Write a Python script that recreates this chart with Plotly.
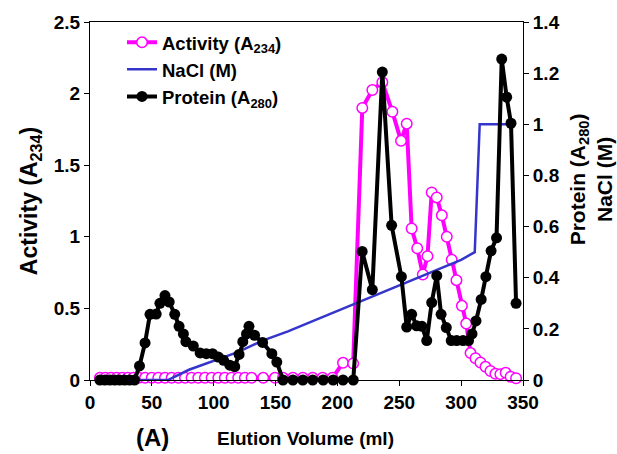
import plotly.graph_objects as go

# Activity (A234)
act_x = [8, 12.5, 17, 21.5, 26, 30.5, 35, 39.5, 44.5, 49.9, 55.2, 60.6, 66, 71.4, 76.8, 82.1, 87.5,
         92.9, 98.3, 103.7, 109, 114.4, 119.8, 125.2, 130.6, 140, 149.5, 156, 164, 172, 180, 188, 196,
         204.5, 212.7, 220.1, 228.2, 236.3, 244.4, 251.4, 256, 260, 264.5, 269, 272.8, 276.2, 280.3,
         284.4, 288.4, 292.4, 296.2, 300.6, 304.1, 307.6, 311.6, 315.6, 319.7, 323.7, 327.7, 331.7,
         336, 340, 344.4]
act_y = [0.015] * 33 + [0.12, 0.115, 1.90, 2.025, 2.08, 1.873, 1.67, 1.79, 1.058, 0.92, 0.737, 0.865,
                        1.31, 1.275, 1.15, 1.0, 0.84, 0.697, 0.518, 0.394, 0.188, 0.152, 0.122, 0.092,
                        0.063, 0.043, 0.041, 0.05, 0.023, 0.012]

# NaCl (M)
nacl_x = [8, 40, 63, 80, 100, 120, 140, 160, 180, 200, 220, 240, 260, 280, 300, 311, 315, 340]
nacl_y = [0, 0, 0, 0.04, 0.075, 0.11, 0.155, 0.19, 0.23, 0.27, 0.31, 0.35, 0.39, 0.43, 0.47, 0.50, 1.0, 1.0]

# Protein (A280)
prot_x = [8, 12, 16, 20, 24, 28, 32, 36, 40, 44.5, 48.5, 53.5, 56.5, 60.6, 64, 68.5, 72, 75.5, 77.5,
          83.5, 89, 94, 99, 103.7, 108, 113, 117, 120.5, 123.5, 126.5, 128.5, 133, 139.5, 147, 151,
          156, 164, 172, 180, 188.5, 196.5, 204.5, 212.8, 220, 228.2, 236.3, 243.8, 251.7, 256, 260,
          264, 268.3, 272.2, 276.2, 280.3, 283.8, 288, 292, 296.4, 301.5, 306, 308.8, 312, 316.2,
          320, 324.2, 328.6, 332.8, 336.8, 340.3, 344.4]
prot_y = [0, 0, 0, 0, 0, 0, 0, 0, 0.055, 0.145, 0.257, 0.258, 0.30, 0.33, 0.305, 0.257, 0.21, 0.18,
          0.15, 0.133, 0.106, 0.103, 0.103, 0.09, 0.077, 0.058, 0.052, 0.10, 0.15, 0.18, 0.21, 0.175,
          0.147, 0.103, 0.07, 0, 0, 0, 0, 0, 0, 0, 0, 0.503, 0.353, 1.204, 0.605, 0.404, 0.207, 0.257,
          0.212, 0.21, 0.154, 0.303, 0.408, 0.257, 0.205, 0.154, 0.154, 0.154, 0.154, 0.18, 0.231,
          0.315, 0.404, 0.505, 0.556, 1.255, 1.106, 1.004, 0.30]

x_ticks = [0, 50, 100, 150, 200, 250, 300, 350]
left_ticks = [0, 0.5, 1, 1.5, 2, 2.5]
left_labels = ["0", "0.5", "1", "1.5", "2", "2.5"]
right_ticks = [0, 0.2, 0.4, 0.6, 0.8, 1, 1.2, 1.4]
right_labels = ["0", "0.2", "0.4", "0.6", "0.8", "1", "1.2", "1.4"]

FONT = "Liberation Sans, Arial, sans-serif"

# plot area in pixels (for annotation placement)
L, R, T, B, W, H = 90, 94, 16, 74, 617, 454
PW, PH = W - L - R, H - T - B


def px_to_paper(px, py):
    return (px - L) / PW, 1 - (py - T) / PH


fig = go.Figure()
fig.add_trace(go.Scatter(
    x=act_x, y=act_y, name="Activity (A<sub>234</sub>)", mode="lines+markers",
    line=dict(color="#FF00FF", width=4),
    marker=dict(symbol="circle", size=10.5, color="white", line=dict(color="#FF00FF", width=1.5)),
    cliponaxis=False, yaxis="y"))
fig.add_trace(go.Scatter(
    x=nacl_x, y=nacl_y, name="NaCl (M)", mode="lines",
    line=dict(color="#3535CC", width=2.5), cliponaxis=False, yaxis="y2"))
fig.add_trace(go.Scatter(
    x=prot_x, y=prot_y, name="Protein (A<sub>280</sub>)", mode="lines+markers",
    line=dict(color="black", width=4),
    marker=dict(symbol="circle", size=11, color="black"),
    cliponaxis=False, yaxis="y2"))

ax_a, ay_a = px_to_paper(152, 438)
ax_r, ay_r = px_to_paper(591, 176)
ax_x, ay_x = px_to_paper(305, 439)

fig.update_layout(
    width=W, height=H,
    margin=dict(l=L, r=R, t=T, b=B),
    paper_bgcolor="white", plot_bgcolor="white",
    font=dict(family=FONT, size=19, color="black", weight="bold"),
    showlegend=True,
    legend=dict(x=(122 - L) / PW, y=0.995, xanchor="left", yanchor="top",
                bgcolor="rgba(0,0,0,0)", font=dict(size=18.5, family=FONT, weight="bold"),
                tracegroupgap=0, itemwidth=30),
    xaxis=dict(range=[0, 350], tickvals=x_ticks, ticks="outside", ticklen=5, tickcolor="black",
               showline=True, linecolor="black", linewidth=1, mirror=True, showgrid=False,
               zeroline=False, tickfont=dict(size=19, family=FONT, weight="bold")),
    yaxis=dict(range=[0, 2.5], tickvals=left_ticks, ticktext=left_labels, ticks="outside",
               ticklen=5, tickcolor="black", showline=True, linecolor="black", linewidth=1,
               showgrid=False, zeroline=False, tickfont=dict(size=19, family=FONT, weight="bold"),
               title=dict(text="Activity (A<sub>234</sub>)",
                          font=dict(size=23, family=FONT, weight="bold"), standoff=9)),
    yaxis2=dict(range=[0, 1.4], tickvals=right_ticks, ticktext=right_labels, overlaying="y",
                side="right", ticks="outside", ticklen=5, tickcolor="black", showline=True,
                linecolor="black", linewidth=1, showgrid=False, zeroline=False,
                tickfont=dict(size=19, family=FONT, weight="bold")),
    annotations=[
        dict(text="(A)", x=ax_a, y=ay_a, xref="paper", yref="paper", showarrow=False,
             xanchor="center", yanchor="middle", font=dict(size=24, family=FONT, weight="bold")),
        dict(text="Elution Volume (ml)", x=ax_x, y=ay_x, xref="paper", yref="paper",
             showarrow=False, xanchor="center", yanchor="middle",
             font=dict(size=19, family=FONT, weight="bold")),
        dict(text="Protein (A<sub>280</sub>)<br>NaCl (M)", x=ax_r, y=ay_r, xref="paper",
             yref="paper", showarrow=False, xanchor="center", yanchor="middle", textangle=-90,
             font=dict(size=21, family=FONT, weight="bold")),
    ],
)

fig.write_html("out.html")
